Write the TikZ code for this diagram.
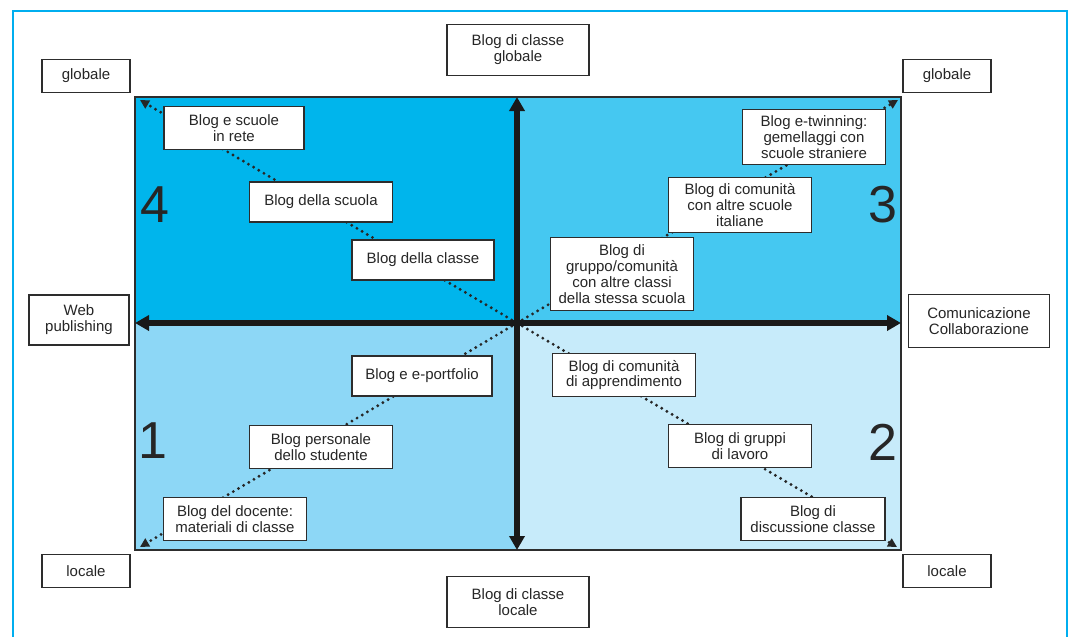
\documentclass[tikz,border=0pt]{standalone}
\usepackage{fontspec}
\setmainfont{Liberation Sans}
\usetikzlibrary{arrows.meta}
\definecolor{qfour}{RGB}{0,181,236}
\definecolor{qthree}{RGB}{69,200,241}
\definecolor{qone}{RGB}{141,215,246}
\definecolor{qtwo}{RGB}{199,235,250}
\definecolor{framecol}{RGB}{0,174,239}
\definecolor{boxline}{RGB}{45,45,45}
\begin{document}
\begin{tikzpicture}[x=1pt,y=-1pt,
  box/.style={draw=boxline, line width=1.6pt, fill=white, align=center, inner sep=1pt,
    font=\fontsize{15}{15.8}\selectfont, text=black!85},
  axisline/.style={draw=black!90, line width=5.5pt, {Triangle[length=14pt,width=15pt]}-{Triangle[length=14pt,width=15pt]}},
  diag/.style={draw=black!85, line width=3.2pt, dash pattern=on 0pt off 6pt, line cap=round, -{Triangle[length=9pt,width=9pt]}},
  quadnum/.style={font=\fontsize{52}{52}\selectfont, text=black!85, inner sep=0pt}]
\useasboundingbox (0,0) rectangle (1072,637);
\draw[framecol, line width=2.5pt] (13,11) rectangle (1067,680);
% quadrants
\fill[qfour] (135,97) rectangle (517,323);
\fill[qthree] (517,97) rectangle (901,323);
\fill[qone] (135,323) rectangle (517,550);
\fill[qtwo] (517,323) rectangle (901,550);
\draw[boxline, line width=2pt] (135,97) rectangle (901,550);
% coordinates
\coordinate (c) at (517,323);
\coordinate (tl) at (140,100);
\coordinate (tr) at (898,100);
\coordinate (bl) at (140,547);
\coordinate (br) at (897,547);
\coordinate (top) at (517,97);
\coordinate (bot) at (517,550);
\coordinate (lft) at (135,323);
\coordinate (rgt) at (901,323);
% diagonals
\draw[diag] (c) -- (tl);
\draw[diag] (c) -- (tr);
\draw[diag] (c) -- (bl);
\draw[diag] (c) -- (br);
% axes
\draw[axisline] (bot) -- (top);
\draw[axisline] (lft) -- (rgt);
% numbers
\node[quadnum] (n4) at (155,205) {4};
\node[quadnum] (n3) at (883,205) {3};
\node[quadnum] (n1) at (153,441) {1};
\node[quadnum] (n2) at (883,442) {2};
% outer labels
\node[box, minimum width=88pt, minimum height=33pt] (gtl) at (86,76) {globale};
\node[box, minimum width=88pt, minimum height=33pt] (gtr) at (947,76) {globale};
\node[box, minimum width=88pt, minimum height=33pt] (lbl) at (86,571) {locale};
\node[box, minimum width=88pt, minimum height=33pt] (lbr) at (947,571) {locale};
\node[box, minimum width=142pt, minimum height=51pt] (bcg) at (518,50) {Blog di classe\\globale};
\node[box, minimum width=142pt, minimum height=51pt] (bcl) at (518,602) {Blog di classe\\locale};
\node[box, minimum width=100pt, minimum height=50pt] (web) at (79,320) {Web\\publishing};
\node[box, minimum width=141pt, minimum height=53pt] (com) at (979,321) {Comunicazione\\Collaborazione};
% inner boxes
\node[box, minimum width=140pt, minimum height=43pt] (b1) at (234,128) {Blog e scuole\\in rete};
\node[box, minimum width=143pt, minimum height=40pt] (b2) at (321,202) {Blog della scuola};
\node[box, minimum width=142pt, minimum height=40pt] (b3) at (423,260) {Blog della classe};
\node[box, minimum width=143pt, minimum height=55pt] (b4) at (814,137) {Blog e-twinning:\\gemellaggi con\\scuole straniere};
\node[box, minimum width=143pt, minimum height=55pt] (b5) at (740,205) {Blog di comunità\\con altre scuole\\italiane};
\node[box, minimum width=143pt, minimum height=73pt] (b6) at (622,274) {Blog di\\gruppo/comunità\\con altre classi\\della stessa scuola};
\node[box, minimum width=143pt, minimum height=43pt] (b7) at (624,375) {Blog di comunità\\di apprendimento};
\node[box, minimum width=143pt, minimum height=43pt] (b8) at (740,446) {Blog di gruppi\\di lavoro};
\node[box, minimum width=144pt, minimum height=43pt] (b9) at (813,519) {Blog di\\discussione classe};
\node[box, minimum width=140pt, minimum height=40pt] (b10) at (422,376) {Blog e e-portfolio};
\node[box, minimum width=143pt, minimum height=43pt] (b11) at (321,447) {Blog personale\\dello studente};
\node[box, minimum width=143pt, minimum height=43pt] (b12) at (235,519) {Blog del docente:\\materiali di classe};
\end{tikzpicture}
\end{document}
